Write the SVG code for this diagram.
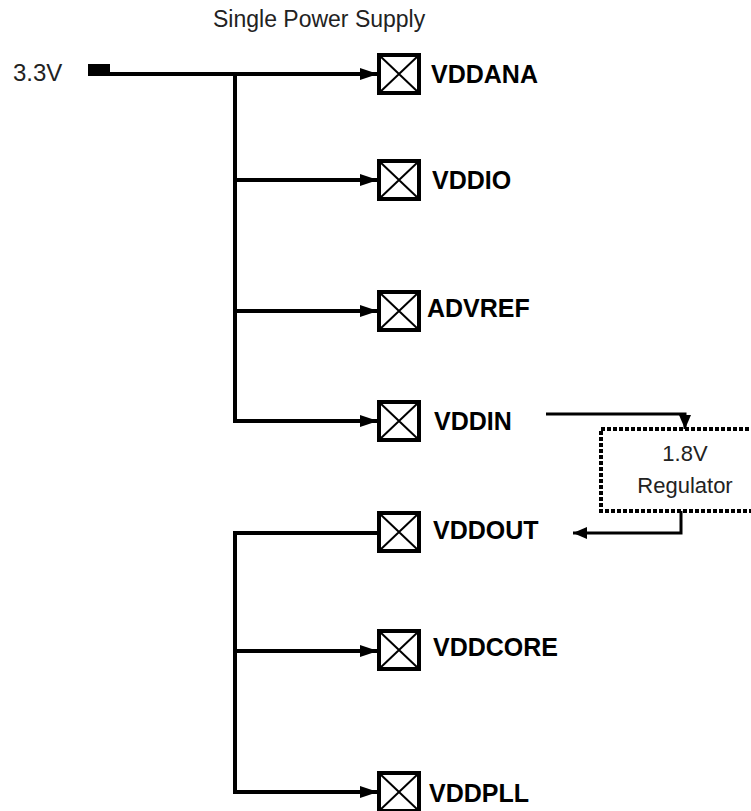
<svg xmlns="http://www.w3.org/2000/svg" width="751" height="811" viewBox="0 0 751 811">
<style>
.wire{fill:none;stroke:#000;stroke-width:4;stroke-linejoin:miter;stroke-linecap:butt}
.thin{fill:none;stroke:#000;stroke-width:3}
.pad{fill:#fff;stroke:#000;stroke-width:4}
.x{stroke:#000;stroke-width:2}
.lbl{font-family:"Liberation Sans",Arial,sans-serif;font-weight:bold;font-size:25px;fill:#000}
.txt{font-family:"Liberation Sans",Arial,sans-serif;font-size:23px;fill:#222}
.reg{fill:none;stroke:#000;stroke-width:4;stroke-dasharray:4 2}
</style>
<defs>
<marker id="arr" markerUnits="userSpaceOnUse" markerWidth="18" markerHeight="12" refX="18" refY="6" orient="auto"><path d="M0,0 L18,6 L0,12 z" fill="#000"/></marker>
<marker id="arrs" markerUnits="userSpaceOnUse" markerWidth="14" markerHeight="12" refX="14" refY="6" orient="auto"><path d="M0,0 L14,6 L0,12 z" fill="#000"/></marker>
<g id="pad"><rect class="pad" x="0" y="-19" width="40" height="38"/><path class="x" d="M0,-19 L40,19 M0,19 L40,-19"/></g>
</defs>
<text class="txt" x="213" y="27">Single Power Supply</text>
<g id="src"><text class="txt" x="13" y="81" style="font-size:24px">3.3V</text><rect x="88" y="64" width="22" height="12" fill="#000"/></g>
<g id="connectors">
<path class="wire" d="M108,74 H378" marker-end="url(#arr)"/>
<path class="wire" d="M235,72 V421 H378" marker-end="url(#arr)"/>
<path class="wire" d="M235,180 H378" marker-end="url(#arr)"/>
<path class="wire" d="M235,311 H378" marker-end="url(#arr)"/>
<path class="thin" d="M546,414 H685 V429" marker-end="url(#arrs)"/>
<path class="thin" d="M681,511 V533 H573" marker-end="url(#arrs)"/>
<path class="wire" d="M378,533 H235 V792 H378" marker-end="url(#arr)"/>
<path class="wire" d="M235,651 H378" marker-end="url(#arr)"/>
</g>
<g id="vddana"><use href="#pad" x="379" y="74"/><text class="lbl" x="431" y="83">VDDANA</text></g>
<g id="vddio"><use href="#pad" x="379" y="180"/><text class="lbl" x="432" y="189">VDDIO</text></g>
<g id="advref"><use href="#pad" x="379" y="311"/><text class="lbl" x="427" y="317">ADVREF</text></g>
<g id="vddin"><use href="#pad" x="379" y="421"/><text class="lbl" x="434" y="430">VDDIN</text></g>
<g id="regulator"><rect class="reg" x="601" y="429" width="170" height="82"/><text class="txt" x="685" y="461" text-anchor="middle" style="font-size:22px">1.8V</text><text class="txt" x="685" y="493" text-anchor="middle" style="font-size:22px">Regulator</text></g>
<g id="vddout"><use href="#pad" x="379" y="532"/><text class="lbl" x="433" y="539">VDDOUT</text></g>
<g id="vddcore"><use href="#pad" x="379" y="650"/><text class="lbl" x="433" y="656">VDDCORE</text></g>
<g id="vddpll"><use href="#pad" x="379" y="792"/><text class="lbl" x="429" y="802">VDDPLL</text></g>
</svg>
